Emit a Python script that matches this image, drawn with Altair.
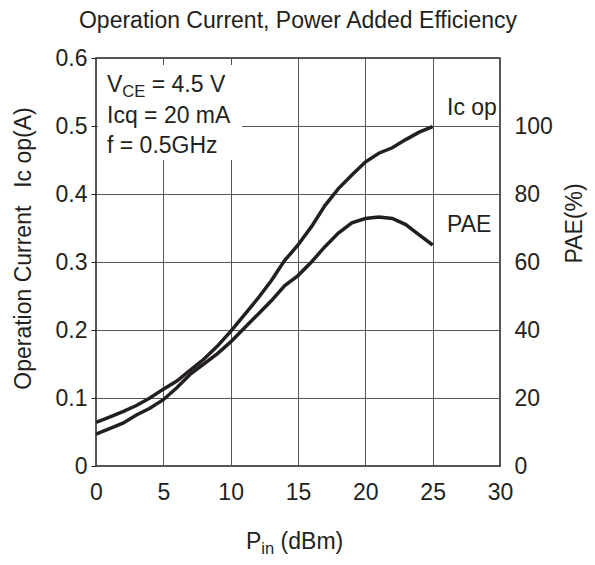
import altair as alt
import pandas as pd

# ---- data ----
pin = [0, 1, 2, 3, 4, 5, 6, 7, 8, 9, 10, 11, 12, 13, 14, 15, 16, 17, 18, 19, 20, 21, 22, 23, 24, 25]
ic_op = [0.064, 0.072, 0.080, 0.089, 0.100, 0.113, 0.125, 0.141, 0.157, 0.176, 0.198, 0.222, 0.246,
         0.272, 0.302, 0.325, 0.352, 0.383, 0.408, 0.428, 0.447, 0.460, 0.468, 0.480, 0.491, 0.499]
pae = [9.4, 11.0, 12.6, 15.0, 17.0, 19.5, 23.0, 27.0, 30.0, 33.0, 36.5, 40.5, 44.5, 48.5, 53.0,
       56.0, 60.0, 64.5, 68.5, 71.5, 72.8, 73.2, 72.8, 71.0, 68.0, 65.0]

x_ticks = [0, 5, 10, 15, 20, 25, 30]
ic_ticks = [0, 0.1, 0.2, 0.3, 0.4, 0.5, 0.6]
pae_ticks = [0, 20, 40, 60, 80, 100]

title_text = "Operation Current, Power Added Efficiency"
left_title = "Operation Current \u2002Ic op(A)"
right_title = "PAE(%)"
cond_lines = ["Icq = 20 mA", "f = 0.5GHz"]
curve_labels = ["Ic op", "PAE"]

FONT = "Liberation Sans"
F = 23
SUB = 0.72 * F
INK = "#231f20"
GRID = "#555555"
W, H = 404, 408

df = pd.DataFrame({"pin": pin, "ic": ic_op, "pae": pae})

x_enc = alt.X("pin:Q", scale=alt.Scale(domain=[0, 30], nice=False, zero=False),
              axis=alt.Axis(values=x_ticks, title=None, ticks=False, domain=False, grid=True,
                            gridColor=GRID, gridWidth=1, labelFont=FONT, labelFontSize=F,
                            labelColor=INK, labelPadding=15, labelFlush=False))

ic_line = alt.Chart(df).mark_line(color=INK, strokeWidth=3.5).encode(
    x=x_enc,
    y=alt.Y("ic:Q", scale=alt.Scale(domain=[0, 0.6], nice=False, zero=True),
            axis=alt.Axis(values=ic_ticks, title=left_title, domain=False, grid=True,
                          gridColor=GRID, gridWidth=1, ticks=True, tickSize=5, tickColor=INK,
                          labelFont=FONT, labelFontSize=F, labelColor=INK, labelPadding=4,
                          labelFlush=False,
                          labelExpr="datum.value == 0 ? '0' : format(datum.value, '.1f')",
                          titleFont=FONT, titleFontSize=F, titleFontWeight="normal",
                          titleColor=INK, titleAngle=270, titleX=-73, titleY=190,
                          titleAlign="center", titleBaseline="middle")))

pae_line = alt.Chart(df).mark_line(color=INK, strokeWidth=3.5).encode(
    x=x_enc,
    y=alt.Y("pae:Q", scale=alt.Scale(domain=[0, 120], nice=False),
            axis=alt.Axis(orient="right", values=pae_ticks, title=right_title, domain=False,
                          grid=False, ticks=False, labelFont=FONT, labelFontSize=F,
                          labelColor=INK, labelPadding=14, labelFlush=False,
                          titleFont=FONT, titleFontSize=F, titleFontWeight="normal",
                          titleColor=INK, titleAngle=270, titleX=74, titleY=165,
                          titleAlign="center", titleBaseline="middle")))

one = pd.DataFrame({"k": [0]})

# white box behind the test-condition text (pixel positions within the plot area)
box = alt.Chart(one).mark_rect(fill="white").encode(
    x=alt.value(2), x2=alt.value(146), y=alt.value(7), y2=alt.value(102))


def txt(s, px, py, size=F, dy=0):
    return alt.Chart(pd.DataFrame({"t": [s]})).mark_text(
        font=FONT, fontSize=size, color=INK, align="left", baseline="alphabetic", dy=dy
    ).encode(x=alt.value(px), y=alt.value(py), text="t:N")


SP = 0.278 * F
v_w = 0.667 * F
ce_w = (0.722 + 0.667) * SUB
p_w = 0.667 * F
in_w = (0.222 + 0.556) * SUB

ann = [
    txt("V", 11, 34),
    txt("CE", 11 + v_w, 34, SUB, dy=5),
    txt("= 4.5 V", 11 + v_w + ce_w + SP, 34),
    txt(cond_lines[0], 11, 65),
    txt(cond_lines[1], 11, 95),
    txt(curve_labels[0], 351, 57),
    txt(curve_labels[1], 351, 174),
    txt("P", 150, 491),
    txt("in", 150 + p_w, 491, SUB, dy=5),
    txt("(dBm)", 150 + p_w + in_w + SP, 491),
]

chart = alt.layer(ic_line, pae_line, box, *ann).resolve_scale(y="independent").properties(
    width=W, height=H,
    autosize=alt.AutoSizeParams(type="none"),
    padding={"left": 88, "top": 50, "right": 87, "bottom": 91},
    title=alt.TitleParams(text=title_text, font=FONT, fontSize=F, fontWeight="normal",
                          color=INK, anchor="middle", frame="group", offset=14),
).configure(background="white").configure_view(stroke=INK, strokeWidth=1.5)

chart.save("out.html", embed_options={"renderer": "svg", "actions": False})
